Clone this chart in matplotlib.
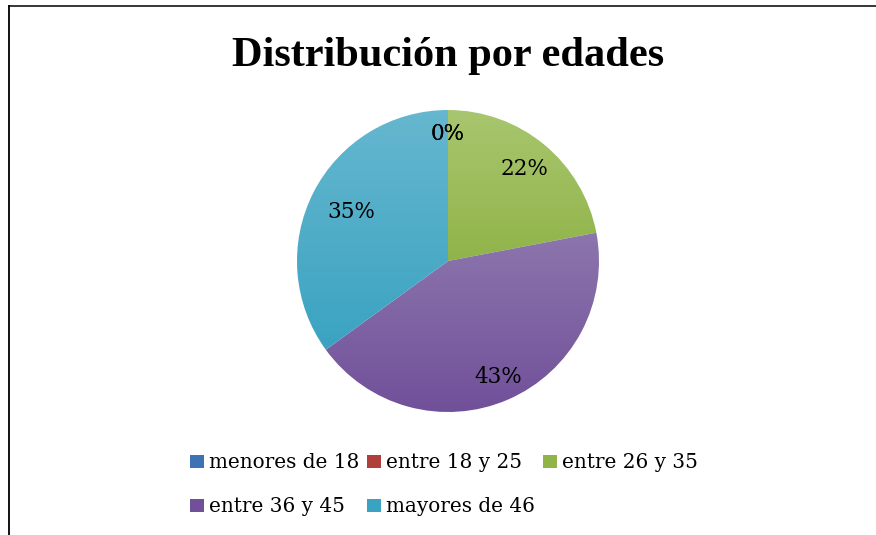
import numpy as np
import matplotlib.pyplot as plt
from matplotlib.colors import to_rgb
from matplotlib.lines import Line2D

# Datos del gráfico
categorias = ["menores de 18", "entre 18 y 25", "entre 26 y 35", "entre 36 y 45", "mayores de 46"]
porcentajes = [0, 0, 22, 43, 35]
titulo = "Distribución por edades"

# Colores (claro arriba, oscuro abajo) para el degradado de cada porción
col_claro = ["#6b96cf", "#cc6663", "#a8c66f", "#8c76ad", "#66b7cf"]
col_oscuro = ["#3d72b5", "#b03f3c", "#91b449", "#71509a", "#3aa3c1"]
dist_etiqueta = [0.84, 0.84, 0.79, 0.84, 0.72]

W, H = 876, 535
fig = plt.figure(figsize=(W / 100, H / 100), dpi=100)

# marco (solo borde izquierdo y superior visibles)
fig.add_artist(Line2D([9 / W, 9 / W], [0, 1 - 6 / H], color="black", lw=1.3))
fig.add_artist(Line2D([9 / W, 1], [1 - 6 / H, 1 - 6 / H], color="black", lw=1.1))

fig.text(448 / W, 1 - 66 / H, titulo, ha="center", va="baseline",
         fontsize=30.5, fontweight="bold", family="Liberation Serif")

ax = fig.add_axes([297 / W, 123 / H, 302 / W, 302 / H])
wedges, _ = ax.pie(porcentajes, startangle=90, counterclock=False, radius=1,
                   colors=col_oscuro, wedgeprops=dict(linewidth=0))
ax.axis("off")

# degradado vertical dentro de cada porción
for w, v, c1, c2 in zip(wedges, porcentajes, col_claro, col_oscuro):
    if v == 0:
        continue
    ext = w.get_path().get_extents()
    a, b = np.array(to_rgb(c1)), np.array(to_rgb(c2))
    t = np.linspace(0, 1, 128)[:, None]
    img = (a + (b - a) * t)[:, None, :]
    im = ax.imshow(img, extent=[ext.x0, ext.x1, ext.y0, ext.y1], origin="upper",
                   aspect="auto", zorder=w.get_zorder() + 0.1, interpolation="bilinear")
    im.set_clip_path(w)
    w.set_facecolor("none")

ax.set_xlim(-1, 1)
ax.set_ylim(-1, 1)

# etiquetas de porcentaje (las de 0% caen en el mismo sitio: se dibuja una)
ya = set()
for w, v, d in zip(wedges, porcentajes, dist_etiqueta):
    ang = np.deg2rad((w.theta1 + w.theta2) / 2)
    pos = (round(d * np.cos(ang), 3), round(d * np.sin(ang), 3))
    if pos in ya:
        continue
    ya.add(pos)
    ax.text(pos[0], pos[1], f"{v}%", ha="center", va="center",
            fontsize=15.5, family="DejaVu Serif", zorder=10)

orden = [0, 3, 1, 4, 2]
handles = [plt.Rectangle((0, 0), 1, 1, facecolor=col_oscuro[i]) for i in orden]
fig.legend(handles, [categorias[i] for i in orden], ncol=3, loc="center",
           bbox_to_anchor=(444 / W, 1 - 485 / H), frameon=False,
           prop=dict(family="DejaVu Serif", size=14.4),
           handlelength=0.7, handleheight=0.65, handletextpad=0.25,
           columnspacing=0.4, labelspacing=1.25, borderpad=0)

fig.savefig("out.png", dpi=100)
